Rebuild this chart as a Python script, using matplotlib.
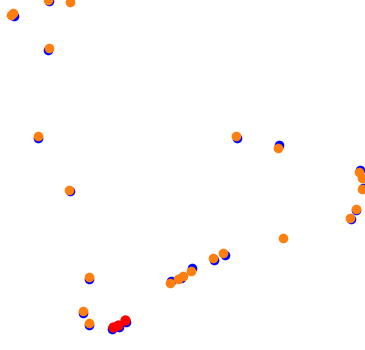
import matplotlib
matplotlib.use("Agg")
import matplotlib.pyplot as plt

# track positions (x, y), y grows downward
blue_x = [14, 49, 48, 38, 70, 89, 83, 89, 112, 119, 126, 171, 181, 192, 214, 225,
          237, 279, 360, 363, 356, 351]
blue_y = [16, 1, 50, 138, 191, 279, 313, 325, 329, 327, 322, 281, 278, 268, 260, 255,
          138, 145, 170, 188, 210, 219]

orange_x = [13, 11, 48, 70, 49, 38, 69, 89, 83, 89, 170, 178, 183, 191, 213, 223,
            236, 278, 283, 359, 362, 362, 356, 350]
orange_y = [13, 15, 0, 2, 48, 136, 190, 277, 311, 323, 283, 279, 276, 271, 258, 253,
            136, 148, 238, 172, 178, 189, 209, 218]

red_x = [113, 118, 125]
red_y = [327, 325, 320]

fig = plt.figure(figsize=(3.65, 3.5), dpi=100)
ax = fig.add_axes([0, 0, 1, 1])

ax.scatter(blue_x, blue_y, s=48, color='blue', linewidths=0, zorder=1)
ax.scatter(orange_x, orange_y, s=48, color='#ff7f0e', linewidths=0, zorder=2)
ax.scatter(red_x, red_y, s=55, color='red', linewidths=0, zorder=3)

ax.set_xlim(0, 365)
ax.set_ylim(350, 0)
ax.axis('off')

fig.savefig("out.png", dpi=100)
